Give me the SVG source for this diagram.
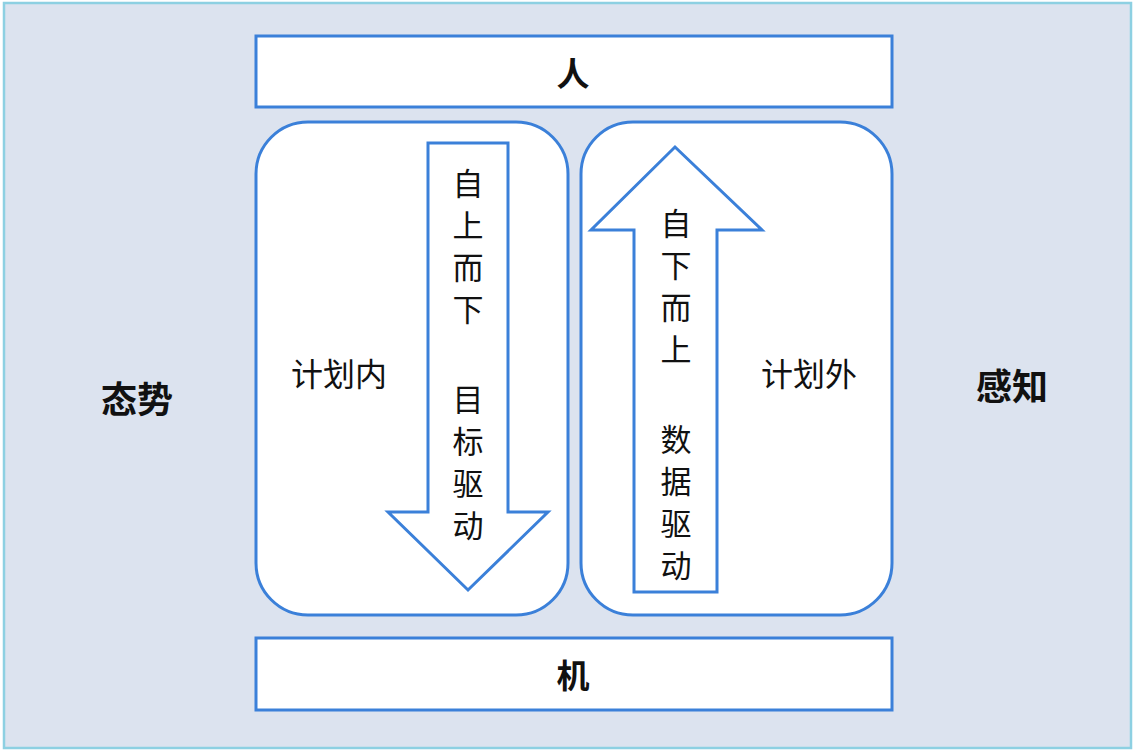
<svg xmlns="http://www.w3.org/2000/svg" width="1136" height="752" viewBox="0 0 1136 752">
<style>
.box{fill:#ffffff;stroke:#3b80d9;stroke-width:3}
.arr{fill:#ffffff;stroke:#3b80d9;stroke-width:3;stroke-linejoin:miter}
.t{font-family:"Noto Sans CJK SC","Noto Sans",sans-serif;fill:#111;text-anchor:middle;dominant-baseline:central}
.b{font-weight:bold;font-size:36px}
.m{font-weight:bold;font-size:33px}
.n{font-size:32px}
.v{font-size:31px}
</style>
<rect x="4" y="3" width="1127" height="745" fill="#dce3ef" stroke="#8dd0e2" stroke-width="2.5"/>
<g id="ren"><rect class="box" x="256" y="36" width="636" height="71"/><text class="t m" x="573" y="72">人</text></g>
<g id="ji"><rect class="box" x="256" y="638" width="636" height="72"/><text class="t m" x="573" y="674">机</text></g>
<g id="taishi"><text class="t b" x="137" y="397">态势</text></g>
<g id="ganzhi"><text class="t b" x="1012" y="384">感知</text></g>
<g id="jihuanei"><rect class="box" x="256" y="122" width="312" height="493" rx="52"/><text class="t n" x="339" y="372">计划内</text></g>
<g id="jihuawai"><rect class="box" x="581" y="122" width="311" height="493" rx="52"/><text class="t n" x="809" y="372">计划外</text></g>
<g id="connectors">
<g id="down"><polygon class="arr" points="428,143 508,143 508,512 548,512 468,590 388,512 428,512"/>
<text class="t v" x="468" y="181">自</text><text class="t v" x="468" y="223">上</text><text class="t v" x="468" y="265">而</text><text class="t v" x="468" y="307">下</text>
<text class="t v" x="468" y="397">目</text><text class="t v" x="468" y="439">标</text><text class="t v" x="468" y="481">驱</text><text class="t v" x="468" y="523">动</text></g>
<g id="up"><polygon class="arr" points="675,147 762,230 717,230 717,592 634,592 634,230 591,230"/>
<text class="t v" x="676" y="221">自</text><text class="t v" x="676" y="263">下</text><text class="t v" x="676" y="305">而</text><text class="t v" x="676" y="347">上</text>
<text class="t v" x="676" y="437">数</text><text class="t v" x="676" y="479">据</text><text class="t v" x="676" y="521">驱</text><text class="t v" x="676" y="563">动</text></g>
</g>
</svg>
